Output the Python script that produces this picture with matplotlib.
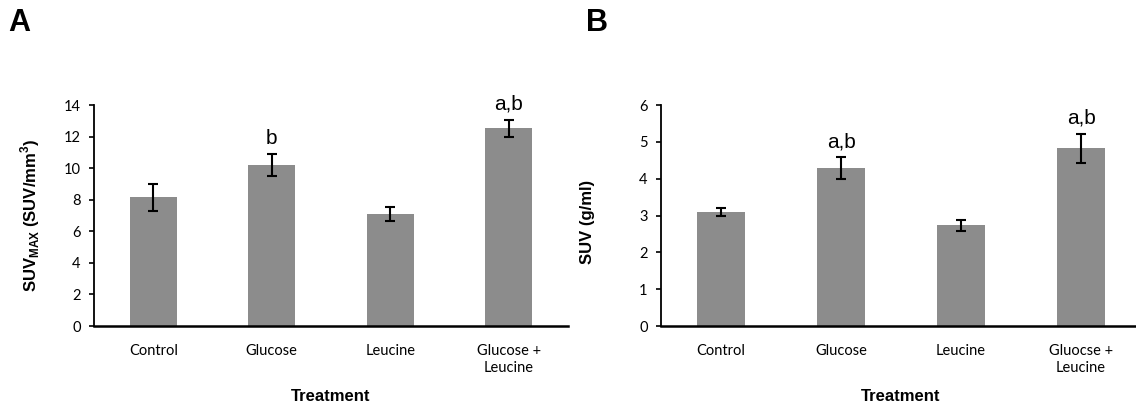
import numpy as np
import matplotlib.pyplot as plt

plt.rcParams['mathtext.fontset'] = 'custom'
plt.rcParams['mathtext.rm'] = 'Liberation Sans'
plt.rcParams['mathtext.bf'] = 'Liberation Sans:bold'

# data
treat_a = ['Control', 'Glucose', 'Leucine', 'Glucose +\nLeucine']
treat_b = ['Control', 'Glucose', 'Leucine', 'Gluocse +\nLeucine']
suv_max = [8.15, 10.18, 7.09, 12.52]
suv_max_err = [0.85, 0.70, 0.42, 0.55]
suv = [3.10, 4.29, 2.73, 4.82]
suv_err = [0.10, 0.29, 0.14, 0.40]
sig_a = ['', 'b', '', 'a,b']
sig_b = ['', 'a,b', '', 'a,b']

bar_col = '#8c8c8c'
tick_font = 'Lato'
lab_font = 'Liberation Sans'

fig = plt.figure(figsize=(11.36, 4.15), dpi=100)
axA = fig.add_axes([94/1136, 89/415, 474/1136, 221/415])
axB = fig.add_axes([661/1136, 89/415, 480/1136, 221/415])


def draw(ax, labels, vals, errs, sig, ymax, ystep, ylab, ylab_x, ylab_y):
    x = np.arange(len(vals))
    ax.bar(x, vals, width=0.4, color=bar_col, zorder=2)
    ax.errorbar(x, vals, yerr=errs, fmt='none', ecolor='black',
                elinewidth=1.5, capsize=3.5, capthick=1.5, zorder=3)
    for xi, v, e, s in zip(x, vals, errs, sig):
        if s:
            ax.annotate(s, (xi, v + e), xytext=(0, 11), textcoords='offset points',
                        ha='center', va='center', fontsize=15, family=lab_font)
    ax.set_xlim(-0.5, len(vals) - 0.5)
    ax.set_ylim(0, ymax)
    ax.set_yticks(np.arange(0, ymax + 0.01, ystep))
    ax.set_xticks(x)
    ax.set_xticklabels(labels, family=tick_font, fontsize=10.5, linespacing=1.3)
    for t in ax.get_yticklabels():
        t.set_family(tick_font)
        t.set_fontsize(10.5)
    ax.tick_params(axis='x', length=0, pad=13)
    ax.tick_params(axis='y', length=3.6, width=1.2, pad=6)
    for sp in ['top', 'right']:
        ax.spines[sp].set_visible(False)
    ax.spines['left'].set_linewidth(1.3)
    ax.spines['bottom'].set_linewidth(1.8)
    ax.set_xlabel('Treatment', family=lab_font, fontsize=12, fontweight='bold', labelpad=10)
    ax.set_ylabel(ylab, family=lab_font, fontsize=12, fontweight='bold')
    ax.yaxis.set_label_coords(ylab_x, ylab_y)


draw(axA, treat_a, suv_max, suv_max_err, sig_a, 14, 2,
     r'SUV$_{\mathbf{MAX}}$ (SUV/mm$^{\mathbf{3}}$)', -0.11, 0.5)
draw(axB, treat_b, suv, suv_err, sig_b, 6, 1, 'SUV (g/ml)', -0.137, 0.47)

fig.text(8/1136, 1 - 31/415, 'A', family=lab_font, fontsize=22, fontweight='bold')
fig.text(586/1136, 1 - 31/415, 'B', family=lab_font, fontsize=22, fontweight='bold')

fig.savefig('out.png', dpi=100)
